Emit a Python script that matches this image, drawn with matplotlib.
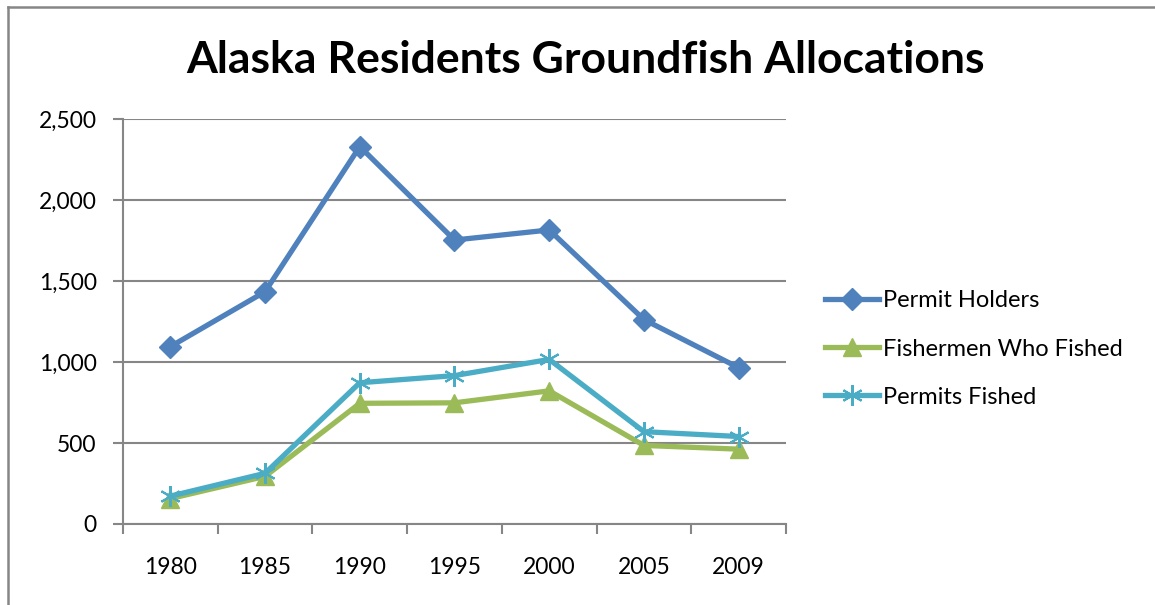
import numpy as np
import matplotlib
matplotlib.use("Agg")
import matplotlib.pyplot as plt
from matplotlib.lines import Line2D
from matplotlib.ticker import FuncFormatter

# data
years = ['1980', '1985', '1990', '1995', '2000', '2005', '2009']
permit_holders = [1095, 1434, 2330, 1753, 1815, 1262, 965]
fishermen_fished = [157, 294, 745, 748, 822, 485, 462]
permits_fished = [172, 313, 872, 916, 1016, 570, 540]

plt.rcParams['font.family'] = ['Lato', 'DejaVu Sans']

grey = '#868686'

fig = plt.figure(figsize=(11.55, 6.05), dpi=100)
ax = fig.add_axes([123 / 1155, 1 - 524 / 605, (786 - 123) / 1155, (524 - 119) / 605])

x = np.arange(len(years))

ax.plot(x, permit_holders, color='#4F81BD', lw=3.8, marker='D', ms=11,
        label='Permit Holders', zorder=3)
ax.plot(x, fishermen_fished, color='#9BBB59', lw=3.8, marker='^', ms=13,
        label='Fishermen Who Fished', zorder=3)
# asterisk marker
ax.plot(x, permits_fished, color='#4BACC6', lw=3.8, marker=(6, 2, 0), ms=15,
        mew=1.5, label='Permits Fished', zorder=4)

ax.set_ylim(0, 2500)
ax.set_xlim(-0.5, len(years) - 0.5)
ax.set_yticks(np.arange(0, 2501, 500))
ax.yaxis.set_major_formatter(FuncFormatter(lambda v, p: f'{int(v):,}'))
ax.yaxis.grid(True, color=grey, lw=1.5)
ax.set_axisbelow(True)

ax.set_xticks(np.arange(-0.5, len(years), 1.0))
ax.set_xticklabels([])
ax.set_xticks(x, minor=True)
ax.set_xticklabels(years, minor=True)
ax.tick_params(axis='x', which='major', length=7, width=1.5, color=grey)
ax.tick_params(axis='x', which='minor', length=0, pad=24, labelsize=16.5)
ax.tick_params(axis='y', length=7, width=1.5, color=grey, labelsize=16.5, pad=12)

for s in ['top', 'right']:
    ax.spines[s].set_visible(False)
for s in ['left', 'bottom']:
    ax.spines[s].set_color(grey)
    ax.spines[s].set_linewidth(1.5)

fig.text(586 / 1155, 1 - 60 / 605, 'Alaska Residents Groundfish Allocations',
         ha='center', va='center', fontsize=32, fontweight='bold')

leg = ax.legend(loc='center left', bbox_to_anchor=(825 / 1155, 1 - 349 / 605),
                bbox_transform=fig.transFigure, frameon=False, fontsize=17,
                borderpad=0, borderaxespad=0,
                handlelength=2.3, handletextpad=0.15, labelspacing=1.15)

# chart border (left and top edges visible)
fig.add_artist(Line2D([8 / 1155, 8 / 1155], [0, 1 - 7 / 605], color=grey, lw=1.8,
                      transform=fig.transFigure))
fig.add_artist(Line2D([8 / 1155, 1], [1 - 7 / 605, 1 - 7 / 605], color=grey, lw=1.8,
                      transform=fig.transFigure))

fig.savefig('out.png', dpi=100)
